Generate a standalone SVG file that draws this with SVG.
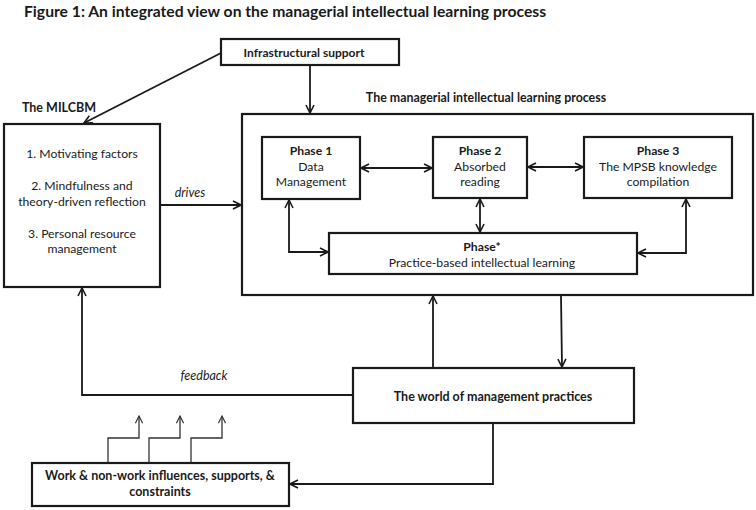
<svg xmlns="http://www.w3.org/2000/svg" width="756" height="510" viewBox="0 0 756 510">
<style>
text{font-family:Lato,"Liberation Sans",sans-serif;fill:#1a1a1a;text-anchor:middle;font-size:12.2px}
.b{font-weight:bold}
.i{font-style:italic}
.box{fill:#fff;stroke:#1a1a1a;stroke-width:2.2}
.c{fill:none;stroke:#1a1a1a;stroke-width:1.8}
.t{fill:none;stroke:#333;stroke-width:1.3}
</style>
<defs>
<marker id="ah" viewBox="0 0 10 10" refX="9" refY="5" markerWidth="10" markerHeight="10" markerUnits="userSpaceOnUse" orient="auto-start-reverse">
<path d="M1,1 L9,5 L1,9" fill="none" stroke="#1a1a1a" stroke-width="1.6"/>
</marker>
<marker id="ahs" viewBox="0 0 10 10" refX="9" refY="5" markerWidth="9" markerHeight="9" markerUnits="userSpaceOnUse" orient="auto">
<path d="M1,1 L9,5 L1,9" fill="none" stroke="#333" stroke-width="1.3"/>
</marker>
</defs>
<rect width="756" height="510" fill="#fff"/>
<text x="24" y="17" class="b" style="text-anchor:start;font-size:15.7px">Figure 1: An integrated view on the managerial intellectual learning process</text>

<g id="infra">
<rect class="box" x="221" y="39" width="178" height="26"/>
<text x="304" y="57" class="b" style="font-size:12px">Infrastructural support</text>
</g>

<g id="milcbm">
<text x="59" y="112" class="b" style="font-size:12.5px">The MILCBM</text>
<rect class="box" x="4" y="124" width="156" height="163"/>
<text x="82" y="158">1. Motivating factors</text>
<text x="82" y="190">2. Mindfulness and</text>
<text x="82" y="206">theory-driven reflection</text>
<text x="82" y="238">3. Personal resource</text>
<text x="82" y="253">management</text>
</g>

<g id="process">
<text x="486" y="102" class="b" style="font-size:12.4px">The managerial intellectual learning process</text>
<rect class="box" x="242" y="114" width="511" height="181"/>
</g>

<g id="phase1">
<rect class="box" x="262" y="137" width="98" height="62"/>
<text x="311" y="155" class="b">Phase 1</text>
<text x="311" y="171">Data</text>
<text x="311" y="186">Management</text>
</g>

<g id="phase2">
<rect class="box" x="433" y="137" width="94" height="61"/>
<text x="480" y="155" class="b">Phase 2</text>
<text x="480" y="171">Absorbed</text>
<text x="480" y="186">reading</text>
</g>

<g id="phase3">
<rect class="box" x="584" y="137" width="148" height="61"/>
<text x="658" y="155" class="b">Phase 3</text>
<text x="658" y="171">The MPSB knowledge</text>
<text x="658" y="186">compilation</text>
</g>

<g id="phasestar">
<rect class="box" x="329" y="233" width="308" height="41"/>
<text x="482" y="251" class="b">Phase*</text>
<text x="482" y="267">Practice-based intellectual learning</text>
</g>

<g id="world">
<rect class="box" x="353" y="368" width="281" height="55"/>
<text x="493" y="401" class="b" style="font-size:12.5px">The world of management practices</text>
</g>

<g id="work">
<rect class="box" x="32" y="463" width="257" height="43"/>
<text x="160" y="480" class="b" style="font-size:12.5px">Work &amp; non-work influences, supports, &amp;</text>
<text x="160" y="496" class="b" style="font-size:12.5px">constraints</text>
</g>

<g id="connectors">
<line class="c" x1="221" y1="53" x2="84" y2="123" marker-end="url(#ah)"/>
<line class="c" x1="310" y1="65" x2="310" y2="113" marker-end="url(#ah)"/>
<line class="c" x1="160" y1="205" x2="241" y2="205" marker-end="url(#ah)"/>
<line class="c" x1="361" y1="168" x2="432" y2="168" marker-start="url(#ah)" marker-end="url(#ah)"/>
<line class="c" x1="528" y1="167" x2="583" y2="167" marker-start="url(#ah)" marker-end="url(#ah)"/>
<line class="c" x1="480" y1="199" x2="480" y2="232" marker-start="url(#ah)" marker-end="url(#ah)"/>
<polyline class="c" points="289,200 289,252 328,252" marker-start="url(#ah)" marker-end="url(#ah)"/>
<polyline class="c" points="686,199 686,253 638,253" marker-start="url(#ah)" marker-end="url(#ah)"/>
<line class="c" x1="433" y1="367" x2="433" y2="296" marker-end="url(#ah)"/>
<line class="c" x1="561" y1="296" x2="562" y2="367" marker-end="url(#ah)"/>
<polyline class="c" points="493,424 493,484 290,484" marker-end="url(#ah)"/>
<polyline class="c" points="352,395 82,395 82,288" marker-end="url(#ah)"/>
<polyline class="t" points="108,462 108,438 139,438 139,416" marker-end="url(#ahs)"/>
<polyline class="t" points="149,462 149,438 180,438 180,416" marker-end="url(#ahs)"/>
<polyline class="t" points="191,462 191,438 222,438 222,416" marker-end="url(#ahs)"/>
<text x="190" y="197" class="i" style="font-size:12.5px">drives</text>
<text x="204" y="380" class="i" style="font-size:12.5px">feedback</text>
</g>
</svg>
